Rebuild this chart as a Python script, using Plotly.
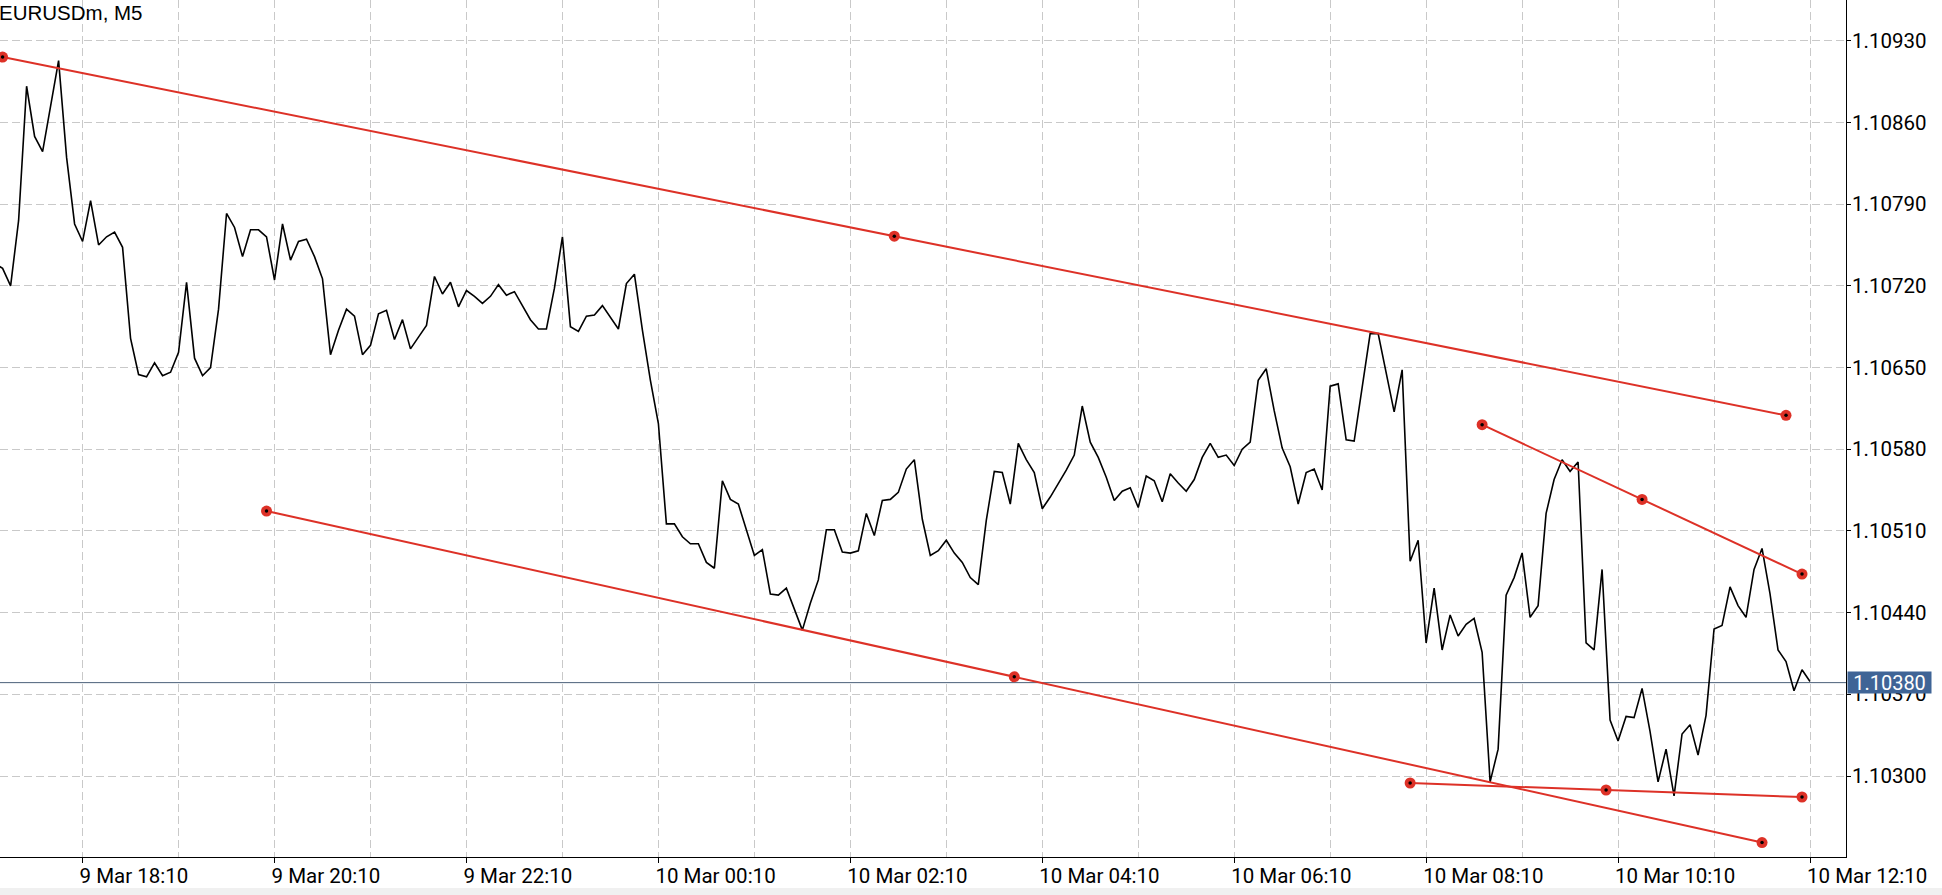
import pandas as pd
import plotly.graph_objects as go

# ---------------- data ----------------
SYMBOL_TITLE = "EURUSDm, M5"
FIRST_BAR = "2025-03-09 17:15"
BAR_FREQ = "5min"

close_prices = [
    1.10739, 1.10735, 1.10720, 1.10776, 1.10891, 1.10848, 1.10835, 1.10875, 1.10913, 1.10830,
    1.10773, 1.10758, 1.10793, 1.10755, 1.10762, 1.10766, 1.10753, 1.10675, 1.10644, 1.10642,
    1.10654, 1.10643, 1.10646, 1.10663, 1.10723, 1.10658, 1.10643, 1.10650, 1.10700, 1.10782,
    1.10770, 1.10745, 1.10768, 1.10768, 1.10762, 1.10725, 1.10773, 1.10742, 1.10758, 1.10760,
    1.10745, 1.10726, 1.10661, 1.10682, 1.10700, 1.10694, 1.10661, 1.10669, 1.10696, 1.10699,
    1.10674, 1.10691, 1.10666, 1.10676, 1.10686, 1.10728, 1.10713, 1.10723, 1.10702, 1.10716,
    1.10711, 1.10705, 1.10711, 1.10721, 1.10712, 1.10715, 1.10703, 1.10691, 1.10683, 1.10683,
    1.10718, 1.10762, 1.10685, 1.10681, 1.10694, 1.10695, 1.10703, 1.10693, 1.10683, 1.10722,
    1.10730, 1.10682, 1.10639, 1.10602, 1.10516, 1.10516, 1.10505, 1.10499, 1.10499, 1.10483,
    1.10478, 1.10553, 1.10537, 1.10533, 1.10511, 1.10489, 1.10494, 1.10456, 1.10455, 1.10461,
    1.10443, 1.10425, 1.10448, 1.10468, 1.10511, 1.10511, 1.10492, 1.10491, 1.10493, 1.10525,
    1.10506, 1.10536, 1.10537, 1.10543, 1.10563, 1.10571, 1.10520, 1.10489, 1.10493, 1.10502,
    1.10491, 1.10483, 1.10470, 1.10464, 1.10519, 1.10561, 1.10560, 1.10533, 1.10585, 1.10571,
    1.10560, 1.10529, 1.10539, 1.10550, 1.10562, 1.10575, 1.10617, 1.10586, 1.10573, 1.10556,
    1.10536, 1.10544, 1.10547, 1.10530, 1.10557, 1.10553, 1.10535, 1.10559, 1.10551, 1.10544,
    1.10554, 1.10573, 1.10585, 1.10573, 1.10575, 1.10566, 1.10580, 1.10586, 1.10639, 1.10649,
    1.10613, 1.10581, 1.10565, 1.10533, 1.10560, 1.10563, 1.10545, 1.10634, 1.10636, 1.10588,
    1.10587, 1.10633, 1.10679, 1.10679, 1.10645, 1.10612, 1.10648, 1.10484, 1.10502, 1.10414,
    1.10461, 1.10408, 1.10438, 1.10420, 1.10430, 1.10435, 1.10406, 1.10295, 1.10323, 1.10455,
    1.10470, 1.10491, 1.10436, 1.10446, 1.10525, 1.10554, 1.10571, 1.10561, 1.10569, 1.10414,
    1.10408, 1.10477, 1.10348, 1.10330, 1.10351, 1.10350, 1.10375, 1.10338, 1.10295, 1.10323,
    1.10283, 1.10336, 1.10344, 1.10318, 1.10352, 1.10426, 1.10429, 1.10462, 1.10446, 1.10436,
    1.10477, 1.10495, 1.10456, 1.10408, 1.10398, 1.10373, 1.10391, 1.10381,
]

current_price = 1.10380
current_price_label = "1.10380"

# trend lines: anchor times and prices (left, middle, right)
trend_upper_times = ["2025-03-09 17:20", "2025-03-10 02:37:30", "2025-03-10 11:55"]
trend_upper_prices = [1.10916, 1.107625, 1.10609]
trend_lower_times = ["2025-03-09 20:05", "2025-03-10 03:52:30", "2025-03-10 11:40"]
trend_lower_prices = [1.10527, 1.10385, 1.10243]
trend_short_times = ["2025-03-10 08:45", "2025-03-10 10:25", "2025-03-10 12:05"]
trend_short_prices = [1.10601, 1.10537, 1.10473]
trend_flat_times = ["2025-03-10 08:00", "2025-03-10 10:02:30", "2025-03-10 12:05"]
trend_flat_prices = [1.10294, 1.10288, 1.10282]

x_tick_times = ["2025-03-09 18:10", "2025-03-09 20:10", "2025-03-09 22:10", "2025-03-10 00:10",
                "2025-03-10 02:10", "2025-03-10 04:10", "2025-03-10 06:10", "2025-03-10 08:10",
                "2025-03-10 10:10", "2025-03-10 12:10"]
x_tick_labels = ["9 Mar 18:10", "9 Mar 20:10", "9 Mar 22:10", "10 Mar 00:10", "10 Mar 02:10",
                 "10 Mar 04:10", "10 Mar 06:10", "10 Mar 08:10", "10 Mar 10:10", "10 Mar 12:10"]
x_grid_times = ["2025-03-09 17:10", "2025-03-09 19:10", "2025-03-09 21:10", "2025-03-09 23:10",
                "2025-03-10 01:10", "2025-03-10 03:10", "2025-03-10 05:10", "2025-03-10 07:10",
                "2025-03-10 09:10", "2025-03-10 11:10"]
y_tick_values = [1.10300, 1.10370, 1.10440, 1.10510, 1.10580, 1.10650, 1.10720, 1.10790, 1.10860, 1.10930]
y_tick_labels = ["1.10300", "1.10370", "1.10440", "1.10510", "1.10580", "1.10650", "1.10720",
                 "1.10790", "1.10860", "1.10930"]

x_range = ["2025-03-09 17:18:22", "2025-03-10 12:32:30"]
y_range = [1.102306, 1.109649]

# ---------------- styling ----------------
RED = "#dd3127"
GRID = "#c9c9c9"
FONT = "Roboto"

times = pd.date_range(FIRST_BAR, periods=len(close_prices), freq=BAR_FREQ)

fig = go.Figure()

fig.add_trace(go.Scatter(x=times, y=close_prices, mode="lines",
                         line=dict(color="black", width=1.6), hoverinfo="skip", showlegend=False))

for t, p in [(trend_upper_times, trend_upper_prices), (trend_lower_times, trend_lower_prices),
             (trend_short_times, trend_short_prices), (trend_flat_times, trend_flat_prices)]:
    fig.add_trace(go.Scatter(x=[t[0], t[-1]], y=[p[0], p[-1]], mode="lines",
                             line=dict(color=RED, width=2), hoverinfo="skip", showlegend=False))
    fig.add_trace(go.Scatter(x=t, y=p, mode="markers",
                             marker=dict(color=RED, size=11, line=dict(width=0)),
                             hoverinfo="skip", showlegend=False))
    fig.add_trace(go.Scatter(x=t, y=p, mode="markers",
                             marker=dict(color="black", size=3.5, line=dict(width=0)),
                             hoverinfo="skip", showlegend=False))

fig.add_shape(type="line", xref="paper", x0=0, x1=1, yref="y", y0=current_price, y1=current_price,
              line=dict(color="#4b5f79", width=1), layer="below")

fig.add_shape(type="rect", xref="paper", x0=0, x1=1942 / 1846, yref="paper",
              y0=-38 / 857, y1=-31 / 857, fillcolor="#f0f0f0", line=dict(width=0))

fig.add_annotation(xref="paper", x=0, yref="paper", y=1, xanchor="left", yanchor="top",
                   text=SYMBOL_TITLE, showarrow=False, xshift=-3, yshift=1,
                   font=dict(family="Liberation Sans, Arial", size=20.5, color="black"))

fig.add_annotation(xref="paper", x=1, yref="y", y=current_price, xanchor="left", yanchor="middle",
                   text=current_price_label, showarrow=False, xshift=1,
                   width=83, height=21, bgcolor="#3f6496", borderpad=0,
                   font=dict(family=FONT, size=20, color="white"))

fig.update_layout(
    width=1942, height=895,
    margin=dict(l=0, r=96, t=0, b=38),
    paper_bgcolor="white", plot_bgcolor="white",
    showlegend=False,
    font=dict(family=FONT, size=20, color="black"),
)

fig.update_xaxes(
    type="date", range=x_range,
    tickmode="array", tickvals=x_tick_times, ticktext=x_tick_labels,
    ticks="outside", ticklen=5, tickcolor="black", tickwidth=1,
    ticklabelposition="outside right", ticklabelshift=-4,
    tickfont=dict(family=FONT, size=20.5, color="black"),
    showgrid=True, gridcolor=GRID, gridwidth=1, griddash="8px,4px",
    minor=dict(tickmode="array", tickvals=x_grid_times, showgrid=True, gridcolor=GRID,
               gridwidth=1, griddash="8px,4px", ticks=""),
    showline=True, linecolor="black", linewidth=1, mirror=False,
    zeroline=False, fixedrange=True,
)

fig.update_yaxes(
    side="right", range=y_range,
    tickmode="array", tickvals=y_tick_values, ticktext=y_tick_labels,
    ticks="outside", ticklen=4, tickcolor="black", tickwidth=1,
    ticklabelstandoff=-3,
    tickfont=dict(family=FONT, size=20.5, color="black"),
    showgrid=True, gridcolor=GRID, gridwidth=1, griddash="8px,4px",
    showline=True, linecolor="black", linewidth=1, mirror=False,
    zeroline=False, fixedrange=True,
)

fig.write_html("out.html", config={"displayModeBar": False},
               post_script="document.body.style.margin='0px';document.body.style.overflow='hidden';")
